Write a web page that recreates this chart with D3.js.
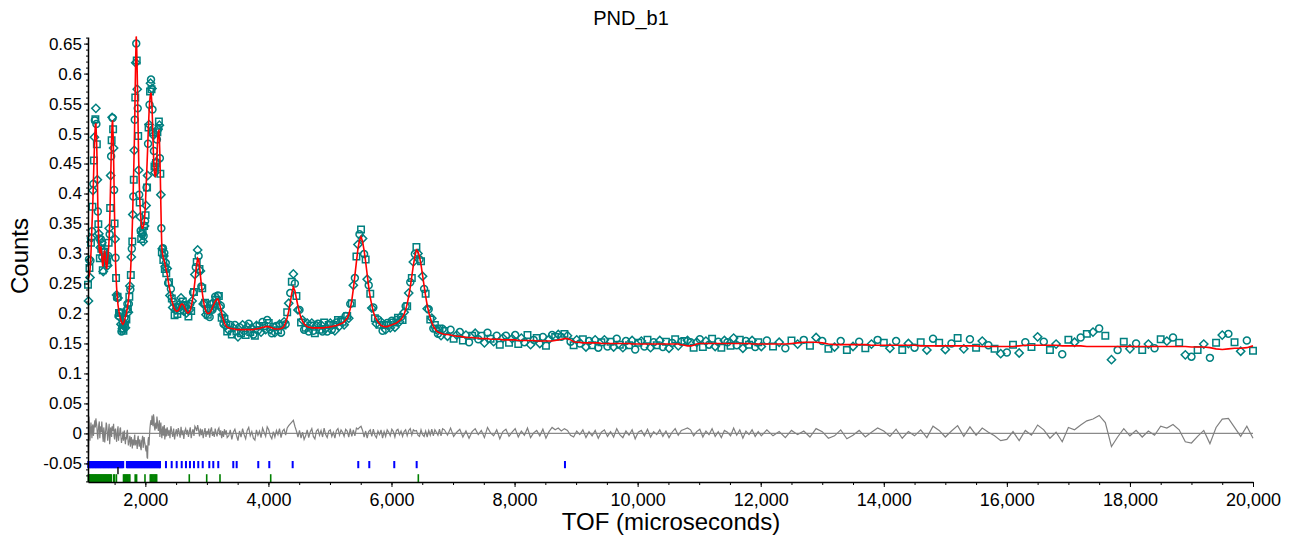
<!DOCTYPE html>
<html>
<head>
<meta charset="utf-8">
<script src="https://cdn.jsdelivr.net/npm/d3@7"></script>
<style>
  body { margin: 0; background: #fff; }
  text { font-family: "Liberation Sans", Arial, sans-serif; }
</style>
</head>
<body>
<div id="chart"></div>
<script>
// ============ DATA ============
// Time-of-flight channels (microseconds)
const tof = [
  // 1068 - 2340
  1068,1076,1084,1092,1100,1108,1116,1124,1132,1140,1148,1156,1164,1172,1180,1188,1196,1204,1212,1220,
  1228,1236,1244,1252,1260,1268,1276,1284,1292,1300,1308,1316,1324,1332,1340,1348,1356,1364,1372,1380,
  1388,1396,1404,1412,1420,1428,1436,1444,1452,1460,1468,1476,1484,1492,1500,1508,1516,1524,1532,1540,
  1548,1556,1564,1572,1580,1588,1596,1604,1612,1620,1628,1636,1644,1652,1660,1668,1676,1684,1692,1700,
  1708,1716,1724,1732,1740,1748,1756,1764,1772,1780,1788,1796,1804,1812,1820,1828,1836,1844,1852,1860,
  1868,1876,1884,1892,1900,1908,1916,1924,1932,1940,1948,1956,1964,1972,1980,1988,1996,2004,2012,2020,
  2028,2036,2044,2052,2060,2068,2076,2084,2092,2100,2108,2116,2124,2132,2140,2148,2156,2164,2172,2180,
  2188,2196,2204,2212,2220,2228,2236,2244,2252,2260,2268,2276,2284,2292,2300,2308,2316,2324,2332,2340,
  // 2355 - 3330
  2355,2370,2385,2400,2415,2430,2445,2460,2475,2490,2505,2520,2535,2550,2565,2580,2595,2610,2625,2640,
  2655,2670,2685,2700,2715,2730,2745,2760,2775,2790,2805,2820,2835,2850,2865,2880,2895,2910,2925,2940,
  2955,2970,2985,3000,3015,3030,3045,3060,3075,3090,3105,3120,3135,3150,3165,3180,3195,3210,3225,3240,
  3255,3270,3285,3300,3315,3330,
  // 3355 - 6830
  3355,3380,3405,3430,3455,3480,3505,3530,3555,3580,3605,3630,3655,3680,3705,3730,3755,3780,3805,3830,
  3855,3880,3905,3930,3955,3980,4005,4030,4055,4080,4105,4130,4155,4180,4205,4230,4255,4280,4305,4330,
  4355,4380,4405,4430,4455,4480,4505,4530,4555,4580,4605,4630,4655,4680,4705,4730,4755,4780,4805,4830,
  4855,4880,4905,4930,4955,4980,5005,5030,5055,5080,5105,5130,5155,5180,5205,5230,5255,5280,5305,5330,
  5355,5380,5405,5430,5455,5480,5505,5530,5555,5580,5605,5630,5655,5680,5705,5730,5755,5780,5805,5830,
  5855,5880,5905,5930,5955,5980,6005,6030,6055,6080,6105,6130,6155,6180,6205,6230,6255,6280,6305,6330,
  6355,6380,6405,6430,6455,6480,6505,6530,6555,6580,6605,6630,6655,6680,6705,6730,6755,6780,6805,6830,
  // 6860 - 12010
  6860,6910,6960,7010,7060,7110,7160,7210,7260,7310,7360,7410,7460,7510,7560,7610,7660,7710,7760,7810,
  7860,7910,7960,8010,8060,8110,8160,8210,8260,8310,8360,8410,8460,8510,8560,8610,8660,8710,8760,8810,
  8860,8910,8960,9010,9060,9110,9160,9210,9260,9310,9360,9410,9460,9510,9560,9610,9660,9710,9760,9810,
  9860,9910,9960,10010,10060,10110,10160,10210,10260,10310,10360,10410,10460,10510,10560,10610,10660,10710,10760,10810,
  10860,10910,10960,11010,11060,11110,11160,11210,11260,11310,11360,11410,11460,11510,11560,11610,11660,11710,11760,11810,
  11860,11910,11960,12010,
  // 12100 - 20000
  12100,12200,12300,12400,12500,12600,12700,12800,12900,13000,13100,13200,13300,13400,13500,13600,13700,13800,13900,14000,
  14100,14200,14300,14400,14500,14600,14700,14800,14900,15000,15100,15200,15300,15400,15500,15600,15700,15800,15900,16000,
  16100,16200,16300,16400,16500,16600,16700,16800,16900,17000,17100,17200,17300,17400,17500,17600,17700,17800,17900,18000,
  18100,18200,18300,18400,18500,18600,18700,18800,18900,19000,19100,19200,19300,19400,19500,19600,19700,19800,19900,20000
];

// Calculated profile (red line)
const calc = [
  .258,.259,.262,.266,.272,.284,.300,.320,.345,.366,.390,.420,.450,.478,.500,.514,.517,.498,.470,.425,
  .380,.343,.318,.305,.300,.306,.312,.306,.298,.286,.278,.284,.292,.300,.305,.296,.286,.278,.274,.282,
  .292,.300,.310,.326,.350,.382,.420,.460,.495,.515,.522,.498,.460,.410,.360,.318,.285,.262,.245,.232,
  .222,.214,.208,.203,.198,.194,.191,.188,.186,.184,.183,.182,.183,.185,.188,.191,.194,.197,.200,.205,
  .210,.215,.222,.230,.240,.250,.262,.280,.300,.320,.345,.375,.410,.443,.480,.525,.580,.630,.662,.640,
  .600,.550,.500,.455,.420,.395,.375,.362,.352,.346,.342,.342,.344,.347,.352,.360,.372,.390,.410,.430,
  .450,.472,.495,.516,.535,.550,.560,.566,.568,.560,.545,.520,.490,.465,.445,.435,.430,.429,.433,.445,
  .462,.482,.497,.504,.505,.492,.465,.425,.380,.340,.310,.302,.297,.293,.290,.287,.284,.280,.276,.272,

  .265,.255,.246,.238,.229,.222,.216,.211,.207,.205,.204,.204,.205,.208,.212,.215,.216,.215,.213,.209,
  .206,.203,.201,.201,.203,.206,.212,.219,.228,.240,.253,.268,.282,.292,.290,.279,.263,.248,.235,.224,
  .215,.209,.204,.201,.200,.200,.201,.203,.206,.210,.213,.217,.220,.222,.224,.224,.220,.214,.208,.201,
  .194,.189,.184,.181,.179,.177,

  .176,.175,.175,.174,.174,.173,.173,.173,.173,.173,.173,.173,.173,.173,.173,.173,.173,.174,.174,.175,
  .175,.176,.177,.177,.178,.178,.178,.177,.176,.175,.174,.174,.174,.174,.175,.176,.179,.185,.193,.204,
  .218,.234,.244,.238,.225,.212,.201,.193,.187,.183,.180,.178,.177,.177,.176,.176,.176,.176,.176,.176,
  .176,.176,.176,.177,.177,.177,.178,.178,.179,.179,.180,.181,.182,.183,.184,.186,.189,.192,.198,.208,
  .222,.241,.263,.286,.308,.322,.328,.320,.305,.286,.265,.244,.227,.214,.203,.195,.190,.186,.183,.180,
  .179,.178,.178,.178,.179,.180,.181,.182,.183,.184,.186,.188,.190,.194,.199,.206,.216,.229,.244,.262,
  .280,.295,.306,.303,.295,.281,.264,.246,.229,.214,.202,.193,.185,.179,.175,.171,.169,.168,.167,.166,

  .165,.165,.164,.163,.162,.162,.161,.160,.160,.160,.159,.159,.158,.158,.158,.157,.157,.157,.157,.156,
  .156,.156,.156,.156,.155,.155,.155,.155,.155,.155,.154,.154,.154,.154,.154,.154,.155,.156,.157,.158,
  .158,.156,.153,.152,.152,.151,.151,.151,.151,.151,.151,.150,.150,.150,.150,.150,.150,.150,.150,.150,
  .150,.149,.149,.149,.149,.149,.149,.149,.149,.149,.149,.149,.149,.149,.149,.149,.149,.148,.147,.146,
  .146,.147,.149,.150,.150,.150,.150,.150,.150,.150,.150,.150,.150,.150,.150,.150,.150,.150,.150,.150,
  .149,.149,.149,.149,

  .149,.149,.149,.149,.150,.151,.152,.152,.152,.151,.149,.148,.148,.148,.148,.148,.148,.147,.147,.147,
  .147,.147,.147,.147,.147,.146,.146,.146,.146,.146,.146,.146,.146,.146,.146,.145,.145,.145,.145,.145,
  .145,.146,.147,.147,.147,.147,.147,.147,.146,.146,.146,.146,.145,.145,.145,.145,.145,.145,.145,.145,
  .145,.145,.145,.145,.145,.145,.145,.145,.145,.144,.144,.144,.143,.141,.140,.141,.142,.142,.143,.146
];

// Difference curve, observed minus calculated (grey line)
const diff = [
  -.010,-.038,.028,.010,-.012,.004,.018,.006,-.008,.012,.015,-.004,.005,.016,.022,.010,.025,.018,.012,-.002,
  -.010,.006,.015,.020,-.008,.004,.012,.002,.020,.008,-.006,-.014,.010,.003,-.015,-.005,.005,.018,.014,.002,
  -.012,-.004,.008,.016,-.018,-.006,.010,.002,-.006,.012,.004,.009,.016,-.004,-.010,.006,.008,-.003,-.014,-.006,
  .006,.012,-.012,-.002,-.004,.008,.010,-.006,-.016,-.009,-.008,.003,-.012,-.004,.005,-.010,-.018,-.006,-.010,.002,
  .006,-.008,-.020,-.014,-.012,-.004,-.022,-.016,-.006,-.012,-.025,-.010,-.015,-.020,-.008,-.002,-.020,-.012,-.012,-.018,
  -.026,-.008,-.004,-.016,-.022,-.010,-.014,-.024,-.028,-.012,-.010,-.004,-.024,-.018,-.006,-.014,-.018,-.026,-.030,-.020,
  -.040,-.042,-.012,-.006,-.020,-.002,.010,.018,.022,.014,.030,.020,.012,.032,.026,.010,.005,.015,.018,.008,
  .028,.020,.010,.004,.015,.022,-.006,.008,.018,.002,-.008,.006,.012,-.004,.006,.014,-.010,-.002,.008,-.005,

  .010,-.004,.006,-.008,.012,.003,-.006,.008,-.010,.001,.007,-.005,.009,.002,-.007,.011,-.003,.005,-.009,.004,
  .008,-.002,.006,-.006,.003,.010,-.008,.002,.007,-.004,.012,.009,.004,.014,.006,-.005,.008,-.003,.007,-.008,
  .002,.009,-.006,.004,-.002,.008,-.007,.005,.010,-.004,.003,-.006,.008,.001,-.005,.006,.009,-.003,.005,-.008,
  .004,-.006,.007,-.002,.005,-.007,

  -.004,.006,-.010,.002,.007,-.003,-.012,.004,-.006,.008,-.002,-.009,.005,.010,-.004,.003,-.008,-.011,.006,-.003,
  .004,-.007,.009,.002,-.005,.011,.006,-.004,-.009,.003,-.006,.005,-.002,.008,-.007,.004,.007,-.003,.009,.013,
  .016,.019,.022,.012,.004,-.006,.005,-.008,.002,-.010,-.004,.006,-.007,.003,.008,-.005,-.009,.004,.007,-.003,
  .005,-.006,.009,-.002,-.007,.004,.006,-.005,.002,-.008,.005,.008,-.003,.006,.002,-.005,.007,.004,-.006,.008,
  -.005,.006,-.004,.009,.007,.010,.012,.005,-.006,.004,-.008,.003,.006,-.005,.007,-.003,-.007,.004,-.002,.006,
  -.008,.003,-.005,.006,.002,-.004,.007,.003,-.006,.005,.007,-.002,.004,-.005,.003,.006,-.004,.005,.008,-.003,
  .006,.004,.005,-.003,-.005,.006,-.002,-.005,.004,-.006,.005,-.003,.007,-.004,.006,.002,-.003,.007,-.004,.008,

  .006,-.003,.009,-.005,.002,.007,-.006,.004,-.008,.003,.008,-.002,.005,-.007,.010,.001,-.004,.006,-.009,.003,
  .007,-.005,.002,.008,-.006,.004,-.003,.009,-.007,.001,.005,-.004,.007,-.008,.003,.010,.006,.009,.004,.008,
  .005,-.003,-.006,.004,-.002,.006,-.007,.003,-.004,.005,-.008,.002,.006,-.005,.003,-.006,.008,-.002,-.007,.004,
  -.003,.006,-.009,.002,.005,-.004,.007,-.006,.003,-.002,.006,-.005,.004,-.007,.002,.008,-.003,.005,.007,.009,
  .006,-.004,.003,.007,-.006,.004,-.002,.008,-.005,.003,-.007,.005,.002,-.004,.009,-.003,.006,-.008,.004,-.002,
  .006,-.005,.003,-.004,

  .006,-.004,.003,-.007,.005,-.002,.004,-.006,.008,.003,-.008,-.004,.006,-.009,-.003,.005,-.006,.002,.009,.004,
  -.005,.007,-.008,.003,-.004,.006,-.007,.012,.005,-.006,.004,.013,-.005,.011,-.003,.009,.002,-.004,-.012,-.010,
  .003,-.012,.005,-.003,.014,.006,-.008,.002,-.014,.010,.006,.014,.021,.024,.030,.018,-.022,-.006,.008,-.004,
  .005,-.006,.004,-.003,.012,.009,.015,.006,-.014,-.016,-.005,.005,-.017,.010,.024,.025,.010,-.005,.012,-.008
];

// Reflection positions (TOF) for each phase
const hklBlue = [
  1072,1090,1105,1121,1138,1152,1170,1186,1200,1218,1233,1250,1266,1281,1299,1314,1330,1347,1362,1380,
  1395,1411,1428,1444,1460,1477,1492,1509,1525,1541,1558,1574,1590,1606,1623,1640,
  1700,1716,1733,1749,1766,1782,1799,1815,1832,1848,1865,1881,1898,1914,1931,1947,1964,1980,1997,2013,
  2030,2046,2063,2079,2096,2112,2129,2145,2162,2178,2195,2211,2228,2238,
  2335,2428,2509,2591,2660,2725,2790,2860,2932,3039,3104,3185,3429,3484,3835,4014,4394,5460,5639,6045,6409,8819
];
const hklGreen = [
  1073,1085,1097,1110,1122,1135,1147,1160,1172,1185,1197,1210,1222,1235,1247,1260,1272,1285,1297,1310,
  1322,1335,1347,1360,1372,1385,1397,1410,1422,1435,1447,1485,1500,1530,1645,1660,1675,1690,1705,1720,
  1735,1748,1835,1858,1994,2080,2095,2110,2125,2140,2155,2170,2184,2714,2997,3213,4037,6436
];
const hklBlack = [1555];

// Axis ticks and labels
const xTicks = [2000, 4000, 6000, 8000, 10000, 12000, 14000, 16000, 18000, 20000];
const xTickLabels = ["2,000", "4,000", "6,000", "8,000", "10,000", "12,000", "14,000", "16,000", "18,000", "20,000"];
const yTicks = [-0.05, 0, 0.05, 0.1, 0.15, 0.2, 0.25, 0.3, 0.35, 0.4, 0.45, 0.5, 0.55, 0.6, 0.65];
const yTickLabels = ["-0.05", "0", "0.05", "0.1", "0.15", "0.2", "0.25", "0.3", "0.35", "0.4", "0.45", "0.5", "0.55", "0.6", "0.65"];

// ============ CHART ============
const margin = {top: 37, right: 38, bottom: 62, left: 88};
const width = 1291 - margin.left - margin.right;
const height = 544 - margin.top - margin.bottom;

const svg = d3.select("#chart")
    .append("svg")
    .attr("width", width + margin.left + margin.right)
    .attr("height", height + margin.top + margin.bottom)
    .append("g")
    .attr("transform", `translate(${margin.left},${margin.top})`);

const x = d3.scaleLinear().domain([1068, 20000]).range([0, width]);
const y = d3.scaleLinear().domain([-0.081, 0.661]).range([height, 0]);

// Build points: observed = calculated + difference
const points = tof.map((t, i) => ({t: t, calc: calc[i], diff: diff[i], obs: calc[i] + diff[i]}));

// Zero line for the difference curve
svg.append("line")
    .attr("x1", 0)
    .attr("x2", width)
    .attr("y1", y(0))
    .attr("y2", y(0))
    .attr("stroke", "#8a8a8a")
    .attr("stroke-width", 1.2);

// Difference curve
svg.append("path")
    .datum(points)
    .attr("fill", "none")
    .attr("stroke", "#808080")
    .attr("stroke-width", 1.2)
    .attr("d", d3.line().x(d => x(d.t)).y(d => y(d.diff)));

// Reflection tick marks
function drawTicks(list, color, top, bottom, w) {
    svg.append("g")
        .selectAll("rect")
        .data(list)
        .enter()
        .append("rect")
        .attr("x", d => x(d) - w / 2)
        .attr("y", y(top))
        .attr("width", w)
        .attr("height", y(bottom) - y(top))
        .attr("fill", color);
}
drawTicks(hklBlue, "#0000ff", -0.046, -0.058, 2);
drawTicks(hklGreen, "#008000", -0.068, -0.081, 1.6);
drawTicks(hklBlack, "#000000", -0.056, -0.068, 1.4);

// Observed points, cycling open square / diamond / circle
const shapes = [
    d3.symbol().type(d3.symbolSquare).size(42)(),
    d3.symbol().type(d3.symbolSquare).size(34)(),
    d3.symbol().type(d3.symbolCircle).size(38)()
];
svg.append("g")
    .selectAll("path")
    .data(points)
    .enter()
    .append("path")
    .attr("d", (d, i) => shapes[i % 3])
    .attr("transform", (d, i) => `translate(${x(d.t)},${y(d.obs)})` + (i % 3 === 1 ? " rotate(45)" : ""))
    .attr("fill", "none")
    .attr("stroke", "#008080")
    .attr("stroke-width", 1.5);

// Calculated line
svg.append("path")
    .datum(points)
    .attr("fill", "none")
    .attr("stroke", "#ff0000")
    .attr("stroke-width", 1.6)
    .attr("d", d3.line().x(d => x(d.t)).y(d => y(d.calc)));

// Axes
const xAxis = svg.append("g")
    .attr("transform", `translate(0,${height})`)
    .call(d3.axisBottom(x).tickValues(xTicks).tickFormat((d, i) => xTickLabels[i]).tickSize(5).tickPadding(6).tickSizeOuter(0));
svg.append("g")
    .attr("transform", `translate(0,${height})`)
    .call(d3.axisBottom(x).tickValues(d3.range(1500, 20000, 500)).tickFormat("").tickSize(3))
    .select(".domain").remove();

const yAxis = svg.append("g")
    .call(d3.axisLeft(y).tickValues(yTicks).tickFormat((d, i) => yTickLabels[i]).tickSize(4).tickPadding(2).tickSizeOuter(0));
svg.append("g")
    .call(d3.axisLeft(y).tickValues(d3.range(-8, 67).map(v => v / 100)).tickFormat("").tickSize(2))
    .select(".domain").remove();

svg.selectAll(".domain").attr("stroke", "#000").attr("stroke-width", 1.5);
svg.selectAll(".tick line").attr("stroke", "#000");
xAxis.selectAll("text").attr("font-size", 18).attr("fill", "#000");
yAxis.selectAll("text").attr("font-size", 17).attr("fill", "#000");

// Title and axis labels
svg.append("text")
    .attr("x", 631 - margin.left)
    .attr("y", 25 - margin.top)
    .attr("text-anchor", "middle")
    .attr("font-size", 20)
    .text("PND_b1");

svg.append("text")
    .attr("transform", "rotate(-90)")
    .attr("x", -(256 - margin.top))
    .attr("y", 28 - margin.left)
    .attr("text-anchor", "middle")
    .attr("font-size", 24)
    .text("Counts");

svg.append("text")
    .attr("x", 671 - margin.left)
    .attr("y", 530 - margin.top)
    .attr("text-anchor", "middle")
    .attr("font-size", 24)
    .text("TOF (microseconds)");
</script>
</body>
</html>
